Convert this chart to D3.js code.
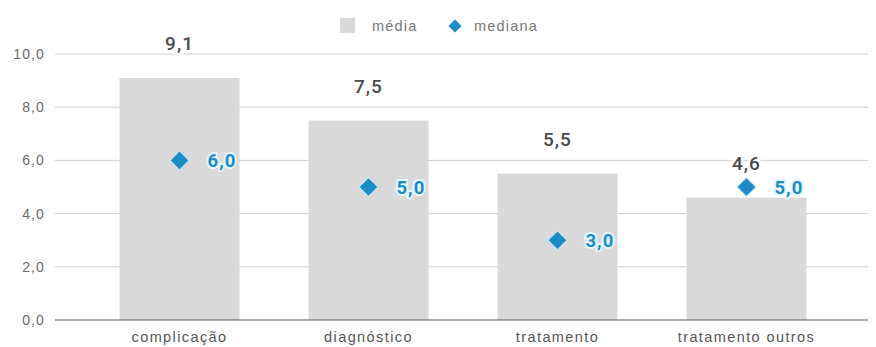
<!DOCTYPE html>
<html>
<head>
<meta charset="utf-8">
<script src="https://cdn.jsdelivr.net/npm/d3@7"></script>
<style>
  html, body { margin: 0; padding: 0; background: #fff; }
  svg { display: block; font-family: "Liberation Sans", Arial, sans-serif; }
</style>
</head>
<body>
<svg id="chart" width="876" height="347"></svg>
<script>
// Tempo por etapa: média (barras) e mediana (losangos)
const categories = ["complicação", "diagnóstico", "tratamento", "tratamento outros"];
const media = [9.1, 7.5, 5.5, 4.6];
const mediana = [6.0, 5.0, 3.0, 5.0];
const yTicks = [0, 2, 4, 6, 8, 10];
const legendLabels = ["média", "mediana"];

const barColor = "#d9d9d9";
const blue = "#1a8cc6";
const fmt = v => d3.format(".1f")(v).replace(".", ",");

const svg = d3.select("#chart");
const plot = { left: 55, right: 868, top: 54, bottom: 320 };

const x = d3.scaleBand().domain(categories).range([85.5, 840.5]).paddingInner(0.365).paddingOuter(0.18);
const y = d3.scaleLinear().domain([0, 10]).range([plot.bottom, plot.top]);
const cx = d => x(d) + x.bandwidth() / 2;

// Grid lines
svg.append("g").selectAll("line").data(yTicks.filter(d => d > 0)).join("line")
  .attr("x1", plot.left).attr("x2", plot.right)
  .attr("y1", d => y(d)).attr("y2", d => y(d))
  .attr("stroke", "#cfcfcf").attr("stroke-width", 1);

// Y axis labels
const yAxis = d3.axisLeft(y).tickValues(yTicks).tickSize(0).tickPadding(0).tickFormat(fmt);
svg.append("g").attr("transform", `translate(${plot.left - 10},0)`).call(yAxis)
  .call(g => g.select(".domain").remove())
  .call(g => g.selectAll("text").attr("fill", "#6a6a6a").attr("font-size", 14)
    .attr("letter-spacing", 1.1)
    .attr("font-family", "'Liberation Sans', Arial, sans-serif"));

// Bars (média)
svg.append("g").selectAll("rect").data(categories).join("rect")
  .attr("x", d => x(d)).attr("width", x.bandwidth())
  .attr("y", (d, i) => y(media[i])).attr("height", (d, i) => y(0) - y(media[i]))
  .attr("fill", barColor);

// Baseline
svg.append("line").attr("x1", plot.left).attr("x2", plot.right)
  .attr("y1", y(0)).attr("y2", y(0)).attr("stroke", "#5a5a5a").attr("stroke-width", 1.2);

// Média value labels
svg.append("g").selectAll("text").data(categories).join("text")
  .attr("x", cx)
  .attr("y", (d, i) => y(media[i]) - 28)
  .attr("text-anchor", "middle")
  .attr("font-family", "Roboto, 'Liberation Sans', sans-serif").attr("font-weight", 500)
  .attr("font-size", 19).attr("fill", "#4a4a4a").attr("letter-spacing", 1)
  .attr("stroke", "#fff").attr("stroke-width", 6).attr("paint-order", "stroke")
  .text((d, i) => fmt(media[i]));

// Mediana diamonds
svg.append("g").selectAll("path").data(categories).join("path")
  .attr("d", d3.symbol().type(d3.symbolSquare).size(155))
  .attr("transform", (d, i) => `translate(${cx(d)},${y(mediana[i])}) rotate(45)`)
  .attr("fill", blue)
  .attr("stroke", "#c6ecf8").attr("stroke-width", 2).attr("paint-order", "stroke");

// Mediana value labels
svg.append("g").selectAll("text").data(categories).join("text")
  .attr("x", d => cx(d) + 28)
  .attr("y", (d, i) => y(mediana[i]))
  .attr("dy", "0.36em")
  .attr("font-family", "Roboto, 'Liberation Sans', sans-serif").attr("font-weight", 700)
  .attr("font-size", 18.5).attr("fill", blue).attr("letter-spacing", 1)
  .attr("stroke", "#e4f6fc").attr("stroke-width", 4).attr("paint-order", "stroke")
  .text((d, i) => fmt(mediana[i]));

// X axis labels
svg.append("g").selectAll("text").data(categories).join("text")
  .attr("x", cx)
  .attr("y", 342)
  .attr("text-anchor", "middle")
  .attr("font-size", 14.5).attr("fill", "#555").attr("letter-spacing", 1.4)
  .text(d => d);

// Legend
const lg = svg.append("g").attr("transform", "translate(0,26)");
lg.append("rect").attr("x", 340).attr("y", -8).attr("width", 15).attr("height", 15).attr("fill", barColor);
lg.append("text").attr("x", 372).attr("y", 5)
  .attr("font-size", 14.5).attr("fill", "#777").attr("letter-spacing", 1.2).text(legendLabels[0]);
lg.append("path").attr("d", d3.symbol().type(d3.symbolSquare).size(85))
  .attr("transform", "translate(455,0) rotate(45)").attr("fill", blue);
lg.append("text").attr("x", 474).attr("y", 5)
  .attr("font-size", 14.5).attr("fill", "#777").attr("letter-spacing", 1.2).text(legendLabels[1]);
</script>
</body>
</html>
